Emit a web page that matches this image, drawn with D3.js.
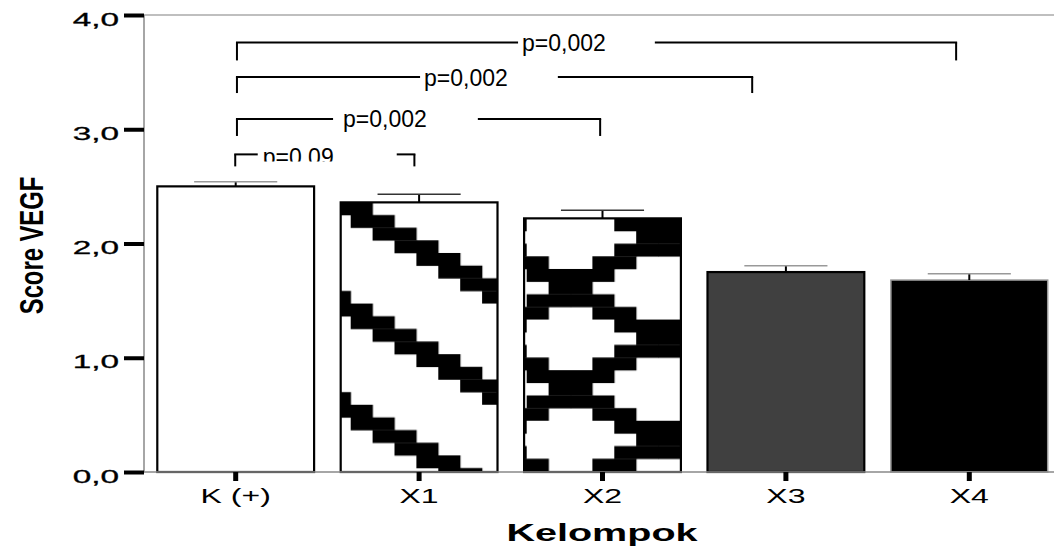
<!DOCTYPE html>
<html><head><meta charset="utf-8">
<script src="https://cdn.jsdelivr.net/npm/d3@7"></script>
<style>html,body{margin:0;padding:0;background:#fff;}svg{display:block;}</style>
</head><body>
<svg id="chart" width="1054" height="548"></svg>
<script>
// ---- data ----
const categories = ["K (+)", "X1", "X2", "X3", "X4"];
const means      = [2.50, 2.36, 2.22, 1.75, 1.68];
const errUpper   = [2.54, 2.43, 2.29, 1.805, 1.735];
const yTicks     = [0, 1, 2, 3, 4];
const xTitle = "Kelompok";
const yTitle = "Score VEGF";
// significance brackets (from, to, level in data units, label)
const bracketFrom  = ["K (+)", "K (+)", "K (+)", "K (+)"];
const bracketTo    = ["X4", "X3", "X2", "X1"];
const bracketLevel = [3.76, 3.457, 3.09, 2.78];
const bracketLabel = ["p=0,002", "p=0,002", "p=0,002", "p=0,09"];

// ---- styles / layout ----
const barFill   = ["#ffffff", "url(#patX1)", "url(#patX2)", "#404040", "#000000"];
const barStroke = ["#000", "#000", "#000", "#000", "#999"];
const capColor  = ["#999", "#333", "#333", "#999", "#999"];
// bracket layout: start/end fraction inside band, drop px, text centre px offset from start, gaps
const bLayout = [
  {f0:0.508, f1:0.416, drop:18, tx:327, gl:4,  gr:49, clip:false},
  {f0:0.508, f1:0.285, drop:16, tx:229, gl:4,  gr:50, clip:false},
  {f0:0.508, f1:0.485, drop:17, tx:148, gl:10, gr:51, clip:false},
  {f0:0.497, f1:0.47,  drop:12, tx:63,  gl:5,  gr:63, clip:true}
];
const patX1 = ["11000000","01100000","00110000","00011000","00001100","00000110","00000011","10000001"];
const patX2 = ["00001111","00000110","00001111","10011001","11110000","01100000","11110000","10011001"];

const svg = d3.select("#chart");
const FONT = "'Liberation Sans', Arial, sans-serif";

const x = d3.scaleBand().domain(categories).range([144, 1061]).paddingInner(0.145).paddingOuter(0.0725);
const y = d3.scaleLinear().domain([0, 4]).range([472, 15]);
const fmt = v => d3.format(".1f")(v).replace(".", ",");

// patterns
const defs = svg.append("defs");
const cw = 21.9, rh = 12.65;
function makePattern(id, bits, cat, val, xoff) {
  const p = defs.append("pattern").attr("id", id).attr("patternUnits", "userSpaceOnUse")
    .attr("x", x(cat) + xoff).attr("y", y(val)).attr("width", cw * 8).attr("height", rh * 8);
  p.append("rect").attr("width", cw * 8).attr("height", rh * 8).attr("fill", "#fff");
  bits.forEach((row, r) => row.split("").forEach((b, c) => {
    if (b === "1") p.append("rect").attr("x", c * cw).attr("y", r * rh)
      .attr("width", cw + 0.3).attr("height", rh + 0.3).attr("fill", "#000");
  }));
}
makePattern("patX1", patX1, "X1", means[1], -11.9);
makePattern("patX2", patX2, "X2", means[2], 2.6);
defs.append("clipPath").attr("id", "clipP").append("rect")
  .attr("x", 0).attr("y", 0).attr("width", 1054).attr("height", 161.5);

// frame
svg.append("line").attr("x1", 144).attr("x2", 1054).attr("y1", y(4)).attr("y2", y(4))
  .attr("stroke", "#aaa").attr("stroke-width", 1.5);
svg.append("line").attr("x1", 144).attr("x2", 144).attr("y1", y(4)).attr("y2", y(0))
  .attr("stroke", "#888").attr("stroke-width", 1.5);

// bars
svg.selectAll("rect.bar").data(categories).enter().append("rect").attr("class", "bar")
  .attr("x", d => x(d)).attr("width", x.bandwidth())
  .attr("y", (d, i) => y(means[i])).attr("height", (d, i) => y(0) - y(means[i]))
  .attr("fill", (d, i) => barFill[i]).attr("stroke", (d, i) => barStroke[i])
  .attr("stroke-width", (d, i) => i === 4 ? 1.5 : 2.2);

// error bars
const cx = d => x(d) + x.bandwidth() / 2;
svg.selectAll("line.ev").data(categories).enter().append("line")
  .attr("x1", cx).attr("x2", cx).attr("y1", (d, i) => y(means[i])).attr("y2", (d, i) => y(errUpper[i]))
  .attr("stroke", "#000").attr("stroke-width", 2);
svg.selectAll("line.ec").data(categories).enter().append("line")
  .attr("x1", d => cx(d) - x.bandwidth() * 0.265).attr("x2", d => cx(d) + x.bandwidth() * 0.265)
  .attr("y1", (d, i) => y(errUpper[i])).attr("y2", (d, i) => y(errUpper[i]))
  .attr("stroke", (d, i) => capColor[i]).attr("stroke-width", 1.5);

// bottom axis line
svg.append("line").attr("x1", 144).attr("x2", 1054).attr("y1", y(0)).attr("y2", y(0))
  .attr("stroke", "#888").attr("stroke-width", 1.5);

// y axis
const gy = svg.append("g").attr("transform", "translate(144,0)")
  .call(d3.axisLeft(y).tickValues(yTicks).tickSize(20).tickFormat(fmt));
gy.select(".domain").remove();
gy.selectAll(".tick line").attr("stroke", "#000").attr("stroke-width", 4);
gy.selectAll(".tick text").attr("x", 0).attr("dy", null).attr("y", 0)
  .attr("transform", "translate(-25,10) scale(1.85,1)")
  .attr("text-anchor", "end").attr("font-family", FONT).attr("font-size", 18)
  .attr("fill", "#000").attr("stroke", "#000").attr("stroke-width", 0.3);

// x axis
const gx = svg.append("g").attr("transform", `translate(0,${y(0)})`)
  .call(d3.axisBottom(x).tickSize(9).tickSizeOuter(0));
gx.select(".domain").remove();
gx.selectAll(".tick line").attr("stroke", "#000").attr("stroke-width", 5);
gx.selectAll(".tick text").attr("y", 0).attr("dy", null)
  .attr("transform", "translate(0,31) scale(1.6,1)")
  .attr("font-family", FONT).attr("font-size", 20).attr("fill", "#000");

// titles
svg.append("text").attr("transform", "translate(602,541) scale(1.72,1)")
  .attr("text-anchor", "middle").attr("font-family", FONT).attr("font-weight", "bold")
  .attr("font-size", 23).text(xTitle);
svg.append("text").attr("transform", "translate(43,245.5) rotate(-90) scale(0.7,1)")
  .attr("text-anchor", "middle").attr("font-family", FONT).attr("font-weight", "bold")
  .attr("font-size", 34).text(yTitle);

// brackets
bracketFrom.forEach((f, i) => {
  const L = bLayout[i];
  const x0 = x(f) + x.bandwidth() * L.f0;
  const x1 = x(bracketTo[i]) + x.bandwidth() * L.f1;
  const yy = y(bracketLevel[i]);
  const g = svg.append("g");
  const txt = g.append("text").attr("x", x0 + L.tx).attr("y", yy + (L.clip ? 11 : 8.5))
    .attr("text-anchor", "middle").attr("font-family", FONT).attr("font-size", 23).text(bracketLabel[i]);
  if (L.clip) txt.attr("clip-path", "url(#clipP)");
  const tw = txt.node().getComputedTextLength();
  const tl = x0 + L.tx - tw / 2, tr = x0 + L.tx + tw / 2;
  const ln = (a, b, c, d) => g.append("line").attr("x1", a).attr("x2", b).attr("y1", c).attr("y2", d)
    .attr("stroke", "#000").attr("stroke-width", 2);
  ln(x0 - 1, tl - L.gl, yy, yy);
  ln(tr + L.gr, x1 + 1, yy, yy);
  ln(x0, x0, yy, yy + L.drop);
  ln(x1, x1, yy, yy + L.drop);
});
</script>
</body></html>
